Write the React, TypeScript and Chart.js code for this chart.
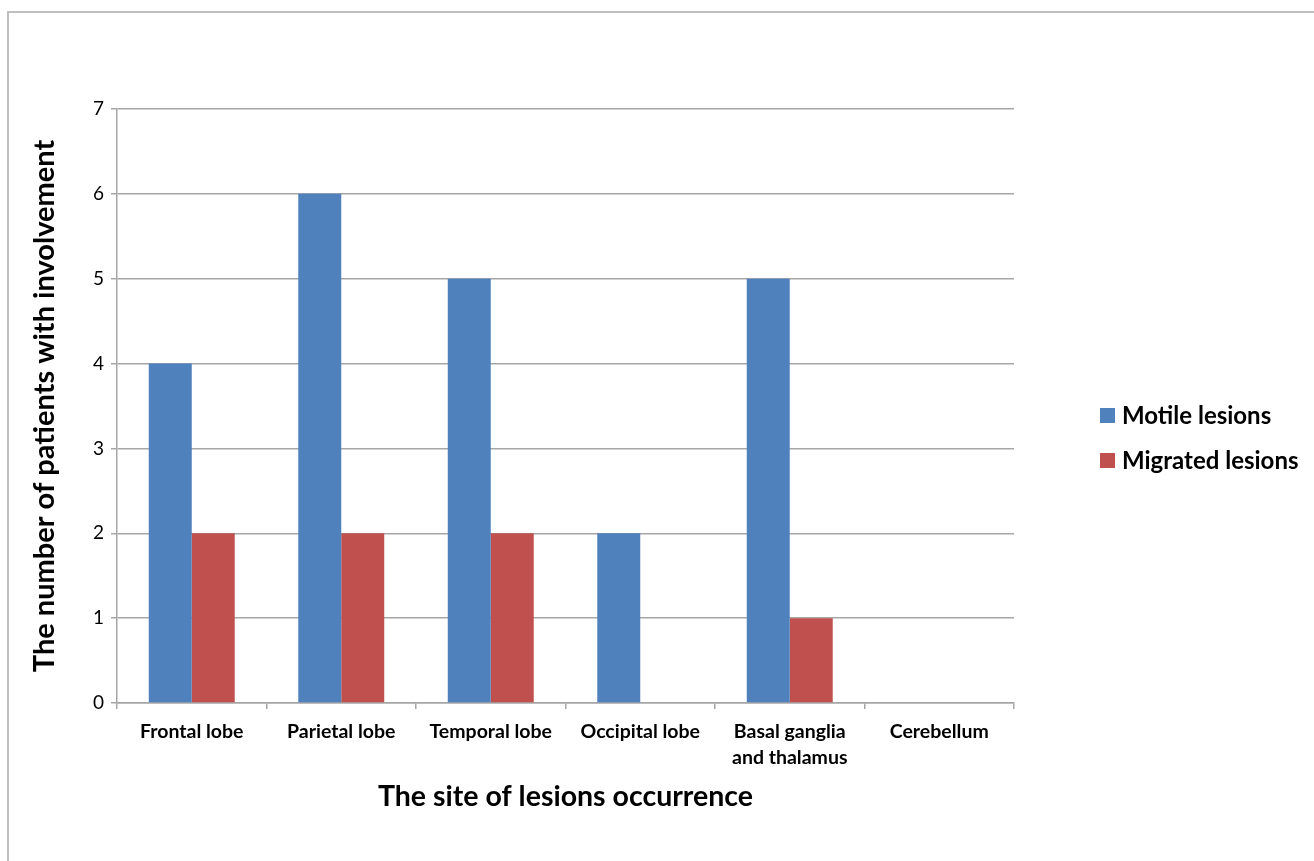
import React, { useEffect, useRef } from "react";
import { Chart, registerables } from "chart.js";

Chart.register(...registerables);

const categories: (string | string[])[] = [
  "Frontal lobe",
  "Parietal lobe",
  "Temporal lobe",
  "Occipital lobe",
  ["Basal ganglia", "and thalamus"],
  "Cerebellum",
];
const motileLesions = [4, 6, 5, 2, 5, 0];
const migratedLesions = [2, 2, 2, 0, 1, 0];
const seriesNames = ["Motile lesions", "Migrated lesions"];
const seriesColors = ["#4F81BD", "#C0504D"];
const yTitle = "The number of patients with involvement";
const xTitle = "The site of lesions occurrence";

const FONT = "Lato, 'Open Sans', sans-serif";
const GRID = "#A6A6A6";

const legendPlugin = {
  id: "customLegend",
  afterDraw(chart: any) {
    const ctx = chart.ctx;
    ctx.save();
    ctx.font = `bold 24px ${FONT}`;
    ctx.textBaseline = "middle";
    ctx.textAlign = "left";
    chart.data.datasets.forEach((ds: any, i: number) => {
      const y = 415 + i * 45;
      ctx.fillStyle = ds.backgroundColor;
      ctx.fillRect(1100, y - 7, 15, 15);
      ctx.fillStyle = "#000";
      ctx.fillText(ds.label, 1122, y + 1);
    });
    ctx.restore();
  },
};

export default function App() {
  const ref = useRef<HTMLCanvasElement>(null);
  useEffect(() => {
    document.body.style.margin = "0";
    const chart = new Chart(ref.current!, {
      type: "bar",
      data: {
        labels: categories,
        datasets: [
          { label: seriesNames[0], data: motileLesions, backgroundColor: seriesColors[0] },
          { label: seriesNames[1], data: migratedLesions, backgroundColor: seriesColors[1] },
        ],
      },
      options: {
        responsive: false,
        animation: false,
        layout: { padding: { left: 0, right: 300, top: 109, bottom: 0 } },
        datasets: { bar: { categoryPercentage: 0.575, barPercentage: 1 } },
        plugins: { legend: { display: false }, tooltip: { enabled: false } },
        scales: {
          x: {
            offset: true,
            grid: { offset: true, drawOnChartArea: false, drawTicks: true, tickLength: 6, color: GRID, lineWidth: 1.5 },
            border: { color: GRID, width: 1.5 },
            ticks: {
              color: "#000",
              font: { family: FONT, size: 19.5, weight: "bold", lineHeight: 1.33 },
              padding: 10,
              maxRotation: 0,
              autoSkip: false,
            },
            title: {
              display: true,
              text: xTitle,
              color: "#000",
              font: { family: FONT, size: 28.5, weight: "bold", lineHeight: 1.2 },
              padding: { top: 0, bottom: 47 },
            },
            afterFit: (s: any) => { s.height = 158; },
          },
          y: {
            min: 0,
            max: 7,
            ticks: { stepSize: 1, color: "#000", font: { family: FONT, size: 19 }, padding: 7 },
            grid: { color: GRID, lineWidth: 1.5, tickLength: 6 },
            border: { color: GRID, width: 1.5 },
            title: {
              display: true,
              text: yTitle,
              color: "#000",
              font: { family: FONT, size: 29, weight: "bold", lineHeight: 1.2 },
              padding: { top: 27.5, bottom: 0 },
            },
            afterFit: (s: any) => { s.width = 117; },
          },
        },
      },
      plugins: [legendPlugin],
    });
    return () => chart.destroy();
  }, []);
  return (
    <div style={{ position: "relative", width: 1314, height: 861, overflow: "hidden", background: "#fff" }}>
      <div style={{ position: "absolute", left: 7, top: 11, width: 1400, height: 1000, border: "2px solid #BFBFBF", boxSizing: "border-box" }} />
      <canvas ref={ref} width={1314} height={861} style={{ position: "absolute", left: 0, top: 0, display: "block" }} />
    </div>
  );
}
